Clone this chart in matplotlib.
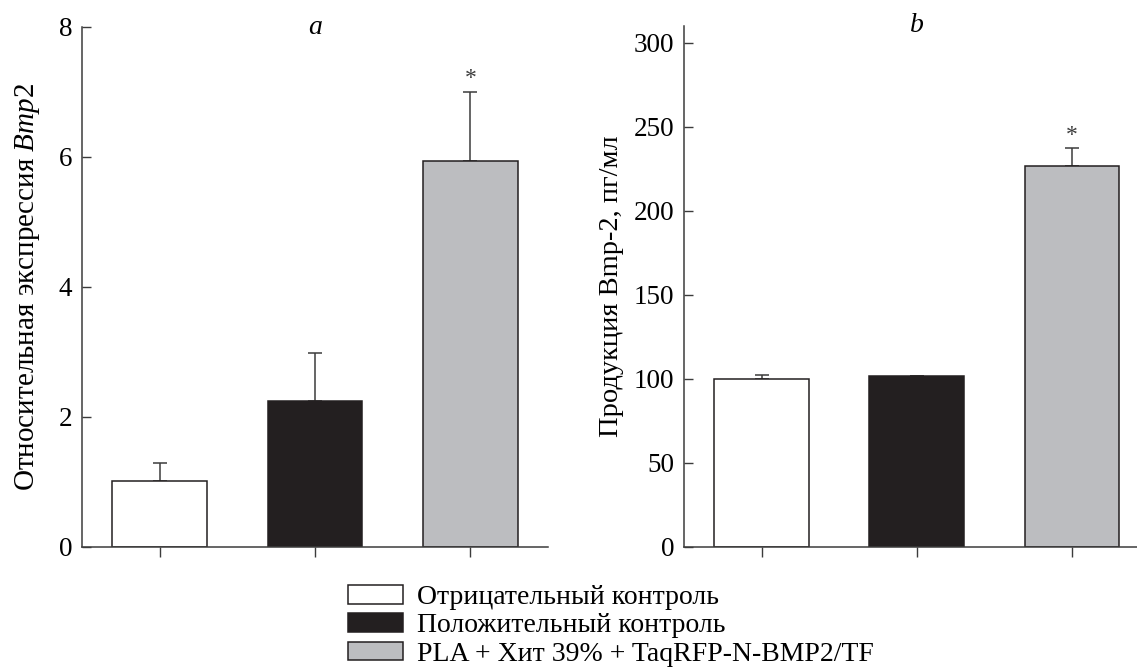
import numpy as np
import matplotlib
matplotlib.use("Agg")
import matplotlib.pyplot as plt
from matplotlib.patches import Patch

plt.rcParams['font.family'] = ['Liberation Serif', 'DejaVu Serif']
plt.rcParams['mathtext.fontset'] = 'custom'
plt.rcParams['mathtext.rm'] = 'Liberation Serif'
plt.rcParams['mathtext.it'] = 'Liberation Serif:italic'

# data
groups = ['Отрицательный контроль', 'Положительный контроль',
          'PLA + Хит 39% + TaqRFP-N-BMP2/TF']
expr_vals = [1.02, 2.25, 5.94]
expr_err = [0.27, 0.73, 1.06]
prod_vals = [99.8, 101.5, 226.5]
prod_err = [2.3, 0.0, 11.0]
colors = ['#ffffff', '#231f20', '#bcbdc0']
edge = '#231f20'
axc = '#3c3c3c'

fig = plt.figure(figsize=(11.37, 6.71), dpi=100)
ax1 = fig.add_axes([82/1137, 1-547/671, 466/1137, 520/671])
ax2 = fig.add_axes([684/1137, 1-547/671, 453/1137, 521/671])

x = np.arange(3)


def style(ax):
    for s in ['top', 'right']:
        ax.spines[s].set_visible(False)
    for s in ['left', 'bottom']:
        ax.spines[s].set_color(axc)
        ax.spines[s].set_linewidth(1.1)
    ax.tick_params(axis='y', direction='in', length=6.5, width=1.0,
                   color=axc, labelsize=19.5, pad=7)
    ax.tick_params(axis='x', direction='out', length=7, width=1.0,
                   color=axc, labelbottom=False)
    ax.set_xticks(x)


# panel a
ax1.bar(x, expr_vals, width=0.61, color=colors, edgecolor=edge, linewidth=1.1,
        zorder=2)
ax1.errorbar(x, expr_vals, yerr=[np.zeros(3), expr_err], fmt='none',
             ecolor=axc, elinewidth=1.1, capsize=5, capthick=1.1, zorder=1)
ax1.set_xlim(-0.5, 2.5)
ax1.set_ylim(0, 8)
ax1.set_yticks([0, 2, 4, 6, 8])
style(ax1)
ax1.set_ylabel('Относительная экспрессия $\\mathit{Bmp2}$', fontsize=21,
               labelpad=12)
ax1.text(1, 8, 'a', ha='center', va='center', fontsize=20, style='italic')
ax1.text(2, 7.2, '*', ha='center', va='center', fontsize=17, color=axc)

# panel b
ax2.bar(x, prod_vals, width=0.61, color=colors, edgecolor=edge, linewidth=1.1,
        zorder=2)
ax2.errorbar(x, prod_vals, yerr=[np.zeros(3), prod_err], fmt='none',
             ecolor=axc, elinewidth=1.1, capsize=5, capthick=1.1, zorder=1)
ax2.set_xlim(-0.5, 2.42)
ax2.set_ylim(0, 310)
ax2.set_yticks([0, 50, 100, 150, 200, 250, 300])
style(ax2)
ax2.set_ylabel('Продукция Bmp-2, пг/мл', fontsize=20.5, labelpad=7)
ax2.text(1, 310, 'b', ha='center', va='center', fontsize=20, style='italic')
ax2.text(2, 245, '*', ha='center', va='center', fontsize=17, color=axc)

handles = [Patch(facecolor=c, edgecolor=edge, linewidth=1.1) for c in colors]
fig.legend(handles, groups, loc='upper left',
           bbox_to_anchor=(348/1137, 1-585/671), frameon=False, fontsize=20,
           handlelength=1.98, handleheight=0.65, handletextpad=0.5,
           labelspacing=0.12, borderpad=0, borderaxespad=0)

fig.savefig('out.png', dpi=100)
